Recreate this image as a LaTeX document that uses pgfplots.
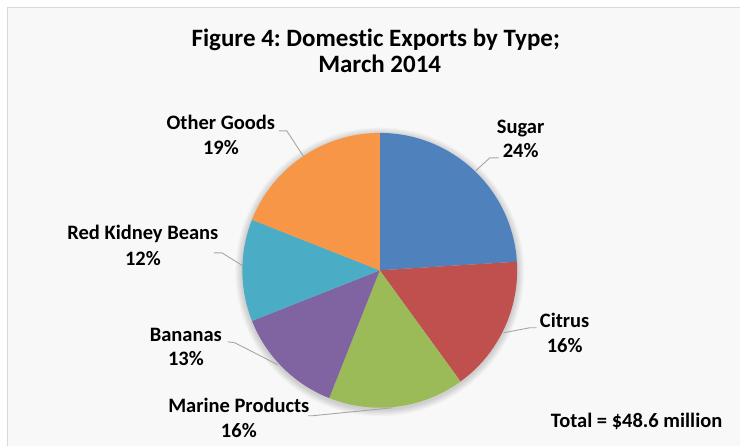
\documentclass[border=0pt]{standalone}
\usepackage{fontspec}
\setmainfont{Carlito}[Ligatures={NoCommon}]
\usepackage{pgfplots}
\pgfplotsset{compat=1.18}
\frenchspacing

\definecolor{sugar}{HTML}{4F81BD}
\definecolor{citrus}{HTML}{C0504D}
\definecolor{marine}{HTML}{9BBB59}
\definecolor{banana}{HTML}{8064A2}
\definecolor{kidney}{HTML}{4BACC6}
\definecolor{other}{HTML}{F79646}
\definecolor{leader}{HTML}{A6A6A6}
\definecolor{frame}{HTML}{D9D9D9}
\definecolor{chartbg}{HTML}{F8F8F8}

% shares in percent, clockwise from 12 o'clock
\def\pSugar{24}
\def\pCitrus{16}
\def\pMarine{16}
\def\pBanana{13}
\def\pKidney{12}
\def\pOther{19}

% pie centre and radius (axis units = pt)
\def\cx{380}
\def\cy{270.5}
\def\rr{137.5}

% one wedge: start angle, end angle, colour
\newcommand\slice[3]{%
  \fill[#3] (axis cs:\cx,\cy) -- ++(#1:\rr pt)
    arc[start angle=#1, end angle=#2, radius=\rr pt] -- cycle;}

\newcommand\lab[5]{% x, y of name baseline, y of pct baseline, name, pct
  \node[anchor=base, inner sep=0pt] at (axis cs:#1,#2) {#4};
  \node[anchor=base, inner sep=0pt] at (axis cs:#1,#3) {#5};}

\begin{document}
\begin{tikzpicture}
\pgfmathsetmacro\aA{90}
\pgfmathsetmacro\aB{\aA-3.6*\pSugar}
\pgfmathsetmacro\aC{\aB-3.6*\pCitrus}
\pgfmathsetmacro\aD{\aC-3.6*\pMarine}
\pgfmathsetmacro\aE{\aD-3.6*\pBanana}
\pgfmathsetmacro\aF{\aE-3.6*\pKidney}
\pgfmathsetmacro\aG{\aF-3.6*\pOther}
\begin{axis}[
    hide axis,
    scale only axis,
    width=740pt, height=446pt,
    xmin=0, xmax=740, ymin=0, ymax=446,
    y dir=reverse,
    clip=false,
]
% chart area
\fill[white] (axis cs:0,0) rectangle (axis cs:740,446);
\fill[chartbg] (axis cs:8,8) rectangle (axis cs:740,446);
\draw[frame, line width=1pt] (axis cs:740,8) -- (axis cs:8,8) -- (axis cs:8,446);

% soft shadow
\pgfplotsinvokeforeach{1,...,7}{
  \fill[black, opacity=0.025] (axis cs:\cx,272) circle[radius=\rr pt + #1 pt];
}

\slice{\aA}{\aB}{sugar}
\slice{\aB}{\aC}{citrus}
\slice{\aC}{\aD}{marine}
\slice{\aD}{\aE}{banana}
\slice{\aE}{\aF}{kidney}
\slice{\aF}{\aG}{other}

% leader lines
\draw[leader, line width=0.9pt] (axis cs:279,131) -- (axis cs:287,131) -- (axis cs:304,157);
\draw[leader, line width=0.9pt] (axis cs:499,158) -- (axis cs:490,158) -- (axis cs:476,171);
\draw[leader, line width=0.9pt] (axis cs:214,253) -- (axis cs:222,253) -- (axis cs:243,266);
\draw[leader, line width=0.9pt] (axis cs:228,342) -- (axis cs:235,343) -- (axis cs:278,365);
\draw[leader, line width=0.9pt] (axis cs:537,328) -- (axis cs:530,328) -- (axis cs:504,333);
\draw[leader, line width=0.9pt] (axis cs:308,416) -- (axis cs:313,416) -- (axis cs:393,408);

% title
\begin{scope}[font=\fontsize{25}{29}\selectfont\bfseries]
\node[anchor=base, inner sep=0pt] at (axis cs:376,47) {Figure 4: Domestic Exports by Type;};
\node[anchor=base, inner sep=0pt] at (axis cs:380,73) {March 2014};
\end{scope}

% data labels
\begin{scope}[font=\fontsize{20.5}{24}\selectfont\bfseries]
\lab{221}{130}{155}{Other Goods}{19\%}
\lab{521}{134}{158}{Sugar}{24\%}
\lab{143}{240}{266}{Red Kidney Beans}{12\%}
\lab{186}{342}{366}{Bananas}{13\%}
\lab{565}{328}{353}{Citrus}{16\%}
\lab{239}{413}{438}{Marine Products}{16\%}
\node[anchor=base, inner sep=0pt] at (axis cs:637,428) {Total = \$48.6 million};
\end{scope}
\end{axis}
\end{tikzpicture}
\end{document}
